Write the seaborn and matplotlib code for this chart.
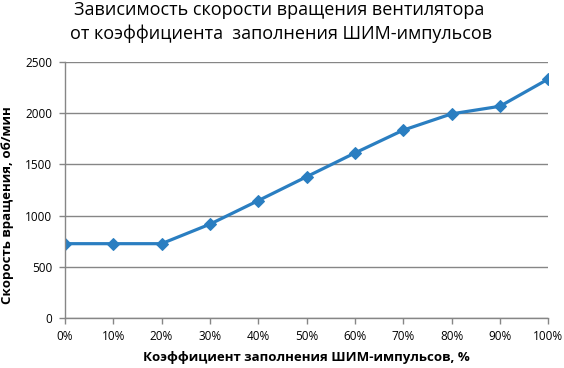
import numpy as np
import pandas as pd
import matplotlib
matplotlib.use("Agg")
import matplotlib.pyplot as plt
import seaborn as sns
from matplotlib.ticker import PercentFormatter

# Данные графика
duty = [0, 10, 20, 30, 40, 50, 60, 70, 80, 90, 100]
rpm = [725, 725, 725, 915, 1145, 1378, 1610, 1833, 1992, 2066, 2332]

sns.set_theme(style="white")
plt.rcParams['font.family'] = ['Open Sans', 'DejaVu Sans']

df = pd.DataFrame({'duty': duty, 'rpm': rpm})

fig = plt.figure(figsize=(5.64, 3.68), dpi=100)
ax = fig.add_axes([0.115, 0.136, 0.857, 0.696])

sns.lineplot(data=df, x='duty', y='rpm', ax=ax, color='#2A7EC1', linewidth=2.3,
             marker='D', markersize=6, markeredgecolor='#2A7EC1')

ax.set_xlim(0, 100)
ax.set_ylim(0, 2500)
ax.set_xticks(duty)
ax.set_yticks(range(0, 2501, 500))
ax.xaxis.set_major_formatter(PercentFormatter(decimals=0))
ax.yaxis.grid(True, color='#868686', linewidth=1)
ax.xaxis.grid(False)
ax.set_axisbelow(True)

for side in ['top', 'right']:
    ax.spines[side].set_visible(False)
for side in ['left', 'bottom']:
    ax.spines[side].set_color('#868686')
    ax.spines[side].set_linewidth(1)

ax.tick_params(axis='both', which='major', direction='out', length=4, width=1,
               color='#868686', labelsize=8.5, pad=5, left=True, bottom=True,
               labelcolor='black')

ax.set_xlabel('Коэффициент заполнения ШИМ-импульсов, %', fontsize=9.5,
              fontweight='bold', color='black')
ax.xaxis.set_label_coords(0.5, -0.156)
ax.xaxis.label.set_va('center')
ax.set_ylabel('Скорость вращения, об/мин', fontsize=9.5, fontweight='bold',
              color='black')
ax.yaxis.set_label_coords(-0.118, 0.44)
ax.yaxis.label.set_va('center')

fig.text(0.495, 0.972, 'Зависимость скорости вращения вентилятора',
         ha='center', va='center', fontsize=13, color='black')
fig.text(0.498, 0.907, 'от коэффициента  заполнения ШИМ-импульсов',
         ha='center', va='center', fontsize=13, color='black')

fig.savefig('out.png', dpi=100)
